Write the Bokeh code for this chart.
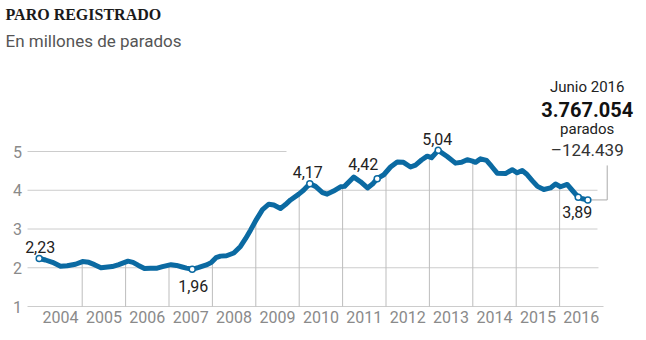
import numpy as np
from bokeh.plotting import figure
from bokeh.models import Range1d, FixedTicker, CustomJSTickFormatter, Label, ColumnDataSource
from bokeh.core.properties import value
from bokeh.embed import file_html
from bokeh.resources import INLINE

# ---- data ----
fecha = [2004.009, 2004.154, 2004.316, 2004.500, 2004.654, 2004.846,
         2005.007, 2005.152, 2005.283, 2005.433, 2005.691, 2005.843,
         2006.055, 2006.171, 2006.297, 2006.435, 2006.574, 2006.728, 2006.850,
         2007.046, 2007.173, 2007.304, 2007.403, 2007.535, 2007.687, 2007.880, 2007.979,
         2008.083, 2008.187, 2008.325, 2008.493, 2008.647, 2008.763, 2008.878,
         2009.016, 2009.154, 2009.300, 2009.415, 2009.569, 2009.684, 2009.800, 2009.991,
         2010.099, 2010.244, 2010.376, 2010.537, 2010.645, 2010.790, 2010.952,
         2011.044, 2011.258, 2011.412, 2011.574, 2011.689, 2011.797, 2011.949,
         2012.104, 2012.258, 2012.403, 2012.565, 2012.680, 2012.818, 2012.949,
         2013.048, 2013.203, 2013.410, 2013.601, 2013.740, 2013.871, 2013.993,
         2014.062, 2014.177, 2014.316, 2014.431, 2014.562, 2014.753, 2014.908,
         2015.023, 2015.138, 2015.237, 2015.369, 2015.491, 2015.636, 2015.790, 2015.906,
         2016.021, 2016.175, 2016.290, 2016.429, 2016.528, 2016.650]
parados = [2.24, 2.20, 2.14, 2.04, 2.05, 2.09,
           2.16, 2.14, 2.08, 2.00, 2.03, 2.08,
           2.17, 2.14, 2.06, 1.98, 1.99, 1.99, 2.03,
           2.08, 2.06, 2.02, 1.99, 1.96, 2.01, 2.08, 2.14,
           2.26, 2.30, 2.31, 2.38, 2.55, 2.75, 2.97,
           3.25, 3.50, 3.64, 3.62, 3.53, 3.63, 3.75, 3.90,
           4.00, 4.17, 4.10, 3.94, 3.90, 3.98, 4.09,
           4.10, 4.34, 4.22, 4.06, 4.16, 4.30, 4.40,
           4.60, 4.73, 4.72, 4.60, 4.65, 4.78, 4.88,
           4.84, 5.03, 4.87, 4.70, 4.72, 4.79, 4.75,
           4.72, 4.81, 4.77, 4.62, 4.44, 4.43, 4.53,
           4.45, 4.51, 4.42, 4.25, 4.10, 4.02, 4.06, 4.16,
           4.09, 4.15, 4.00, 3.82, 3.78, 3.75]

marca_idx = [0, 23, 43, 54, 64, 88, 90]
marca_txt = ["2,23", "1,96", "4,17", "4,42", "5,04", "3,89", ""]
marca_dx = [1, 1, -2, -14, -1, -1, 0]
marca_dy = [-11, 17, -12, -15, -11, 15, 0]

anios = list(range(2004, 2017))
y_ticks = [1, 2, 3, 4, 5]
y_labels = ["1", "2", "3", "4", "5"]
grid_fin = [2017.012, 2016.896, 2016.873, 2016.873, 2009.707]
grid_ini = 2003.740
ylab_x = 2003.613

callout_txt = ["Junio 2016", "3.767.054", "parados", "\u2013124.439"]
callout_y = [6.662, 6.079, 5.570, 5.028]
callout_x = 2016.636

BLUE = "#0b6aa2"
FRAME_BOTTOM = 314  # px from top of canvas

p = figure(width=646, height=340, output_backend="svg", toolbar_location=None,
           x_range=Range1d(2003.1175, 2017.864), y_range=Range1d(0.79355, 8.8968),
           y_axis_location=None,
           min_border_left=0, min_border_right=6, min_border_top=0,
           min_border_bottom=340 - FRAME_BOTTOM)
p.outline_line_color = None
p.grid.visible = False

# x axis
ax = p.xaxis[0]
ax.ticker = FixedTicker(ticks=[a + 0.5 for a in anios])
ax.formatter = CustomJSTickFormatter(code="return Math.floor(tick).toString();")
ax.axis_line_color = None
ax.major_tick_line_color = None
ax.minor_tick_line_color = None
ax.major_tick_out = 0
ax.major_tick_in = 0
ax.major_label_text_font = "Roboto"
ax.major_label_text_font_size = "16px"
ax.major_label_text_color = "#8a8a8a"
ax.major_label_standoff = -4

# y tick labels
p.text(x=[ylab_x] * len(y_ticks), y=y_ticks, text=y_labels,
       text_font=value("Roboto"), text_font_size="16px", text_color="#8a8a8a",
       text_align="right", text_baseline="middle")

# horizontal grid lines
p.segment(x0=[grid_ini] * len(y_ticks), y0=y_ticks, x1=grid_fin, y1=y_ticks,
          line_color="#cccccc", line_width=1)

# vertical drop lines at each year boundary
bound = np.array(anios[1:], dtype=float)
top = np.interp(bound, fecha, parados)
p.segment(x0=bound, y0=[1] * len(bound), x1=bound, y1=top, line_color="#bdbdbd", line_width=1)

# callout connector
p.line(x=[fecha[-1], 2017.097, 2017.097], y=[parados[-1], parados[-1], 4.64],
       line_color="#aaaaaa", line_width=1)

# main line
p.line(x=fecha, y=parados, line_color=BLUE, line_width=5, line_join="round", line_cap="round")

mx = [fecha[i] for i in marca_idx]
my = [parados[i] for i in marca_idx]
p.scatter(x=mx, y=my, size=6, fill_color="white", line_color=BLUE, line_width=1.5)

src = ColumnDataSource(dict(x=mx[:-1], y=my[:-1], t=marca_txt[:-1], dx=marca_dx[:-1], dy=marca_dy[:-1]))
p.text(x="x", y="y", text="t", x_offset="dx", y_offset="dy", source=src,
       text_font=value("Roboto"), text_font_size="16px", text_color="#222222",
       text_align="center", text_baseline="middle")

# callout text
p.text(x=[callout_x, callout_x], y=[callout_y[0], callout_y[2]], text=[callout_txt[0], callout_txt[2]],
       text_font=value("Roboto"), text_font_size="15px", text_color="#222222",
       text_align="center", text_baseline="middle")
p.text(x=[callout_x], y=callout_y[1:2], text=callout_txt[1:2],
       text_font=value("Roboto"), text_font_size="20px", text_font_style="bold",
       text_color="#111111", text_align="center", text_baseline="middle")
p.text(x=[callout_x], y=callout_y[3:4], text=callout_txt[3:4],
       text_font=value("Roboto"), text_font_size="17px", text_color="#333333",
       text_align="center", text_baseline="middle")

# titles
p.add_layout(Label(x=5, y=FRAME_BOTTOM - 13.6, x_units="screen", y_units="screen",
                   text="PARO REGISTRADO", text_font="Liberation Serif", text_font_style="bold",
                   text_font_size="16px", text_color="#1a1a1a", text_baseline="middle"))
p.add_layout(Label(x=5, y=FRAME_BOTTOM - 40.2, x_units="screen", y_units="screen",
                   text="En millones de parados", text_font="Roboto",
                   text_font_size="17px", text_color="#555555", text_baseline="middle"))

open("out.html", "w").write(file_html(p, INLINE))
